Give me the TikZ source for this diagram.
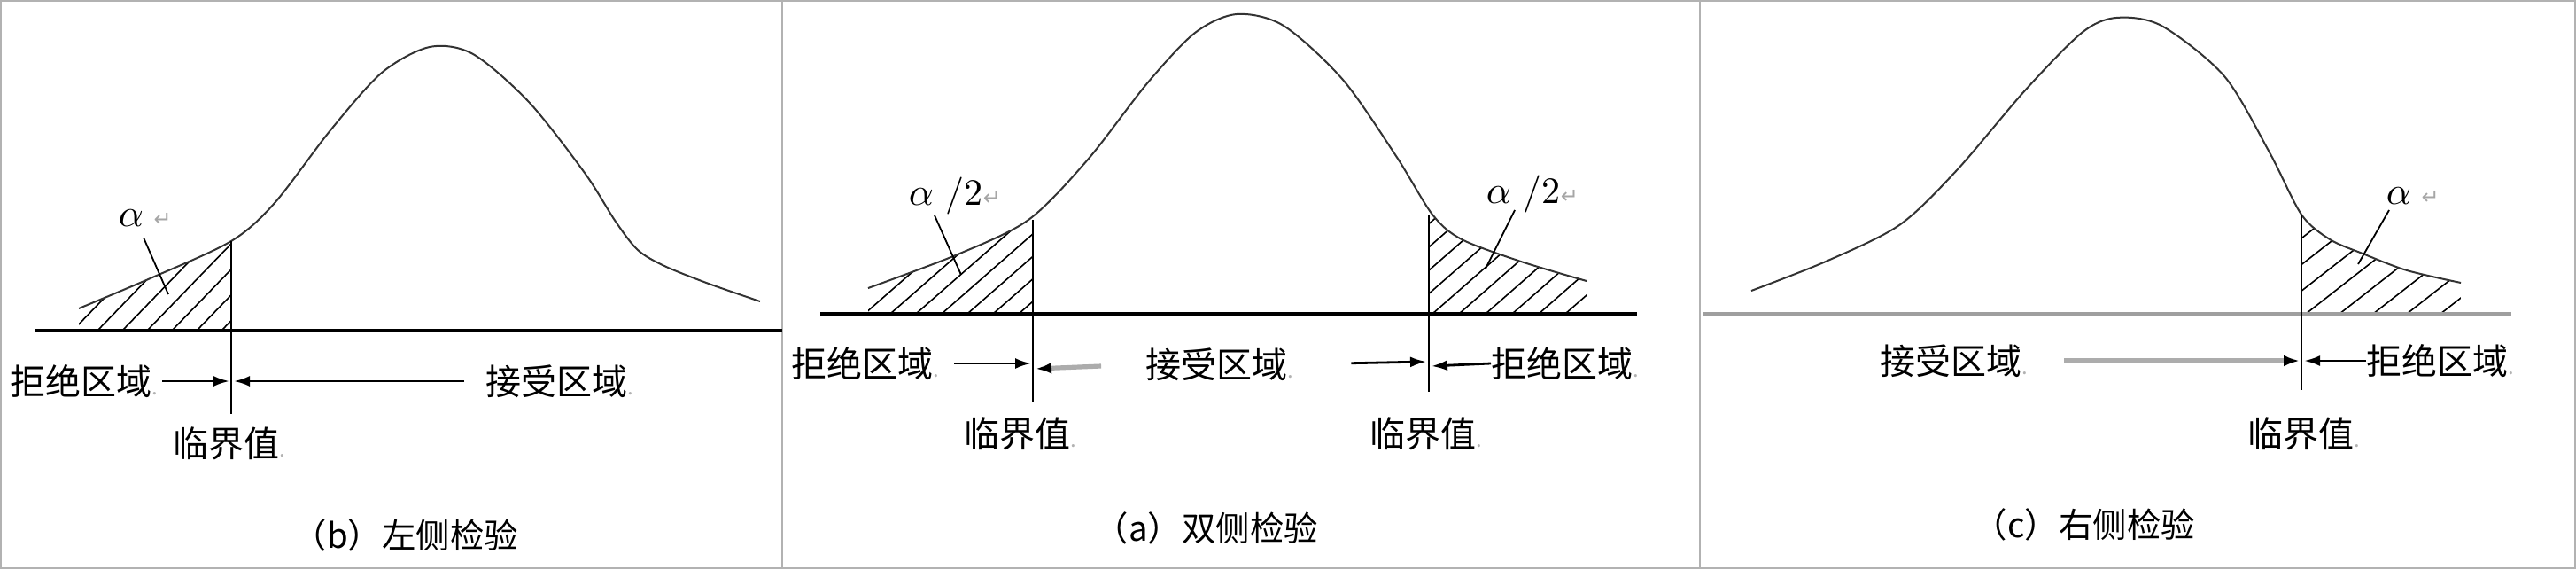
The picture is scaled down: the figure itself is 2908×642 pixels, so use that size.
\documentclass[tikz,border=0pt]{standalone}
\usepackage{fontspec}
\usepackage{xcolor}
\usetikzlibrary{arrows.meta}
\newfontfamily\cjk{Noto Sans CJK SC}
\newfontfamily\dejavu{DejaVu Sans}
\newcommand\pmark{\textcolor{gray!60}{\fontsize{6}{6}\selectfont .}}
\newcommand\retmark{\textcolor{gray!70}{\dejavu\fontsize{6}{6}\selectfont ↵}}
% the three bell curves, in pixel coordinates
\newcommand\bellB{plot[smooth] coordinates {(89,348) (172,313) (261,272) (310,229) (373,147) (431,82) (485,53) (534,61) (597,115) (660,195) (695,250) (720,282) (750,300) (800,320) (858,340)}}
\newcommand\bellA{plot[smooth] coordinates {(980,325) (1081,287) (1161,248) (1228,180) (1295,94) (1349,37) (1396,16) (1449,29) (1516,90) (1576,176) (1617,242) (1650,270) (1717,295) (1791,317)}}
\newcommand\bellC{plot[smooth] coordinates {(1977,328) (2061,295) (2144,254) (2209,192) (2286,102) (2350,37) (2389,20) (2440,29) (2511,86) (2562,172) (2598,242) (2630,270) (2667,286) (2717,305) (2778,319)}}
\tikzset{
  lbl/.style={inner sep=0pt,anchor=west,font=\cjk\fontsize{10}{12}\selectfont},
  capt/.style={inner sep=0pt,anchor=west,font=\cjk\fontsize{9.6}{12}\selectfont},
  alf/.style={inner sep=0pt,anchor=west,font=\fontsize{10.5}{12}\selectfont},
  bell/.style={line width=0.5pt,black!80},
  axis/.style={line width=0.8pt},
  crit/.style={line width=0.6pt},
  hatch/.style={line width=0.4pt},
  lead/.style={line width=0.45pt},
  arr/.style={line width=0.7pt,-{Latex[length=4.5pt,width=3pt]}},
  garr/.style={line width=1.3pt,gray!65,-{Latex[length=4.5pt,width=3.2pt,color=black]}}
}

\begin{document}
\begin{tikzpicture}[x=0.25pt,y=-0.25pt]
\useasboundingbox (0,0) rectangle (2908,642);
\draw[gray!60,line width=0.4pt] (1,1) rectangle (2907,641);
\draw[gray!60,line width=0.4pt] (883,1) -- (883,641) (1919,1) -- (1919,641);

% (b) left
\begin{scope}
\clip (89,0) rectangle (261,373);
\clip \bellB -- (858,373) -- (89,373) -- cycle;
\foreach \x in {-2,26,...,270} \draw[hatch] (\x,373) -- ++(160,-165);
\end{scope}
\draw[bell] \bellB;
\draw[axis] (39,373) -- (883,373);
\coordinate (kB) at (261,272);
\coordinate (kBb) at (261,467);
\draw[crit] (kB) -- (kBb);
\node[alf] (alB) at (133,246) {$\alpha$\;\retmark};
\coordinate (lB1) at (162,268);
\coordinate (lB2) at (190,332);
\draw[lead] (lB1) -- (lB2);
\node[lbl] (rejB) at (11,430) {拒绝区域\pmark};
\node[lbl] (accB) at (548,430) {接受区域\pmark};
\node[lbl] (critB) at (195,500) {临界值\pmark};
\coordinate (kB1) at (259,430);
\coordinate (kB2) at (264,430);
\draw[arr,shorten <=1pt] (rejB.east) -- (kB1);
\draw[arr,shorten <=6pt] (accB.west) -- (kB2);
\node[capt] (capB) at (330,604) {（b）左侧检验};

% (a) two-sided
\begin{scope}
\clip (980,0) rectangle (1166,354);
\clip \bellA -- (1791,354) -- (980,354) -- cycle;
\foreach \x in {860,889,...,1170} \draw[hatch] (\x,354) -- ++(160,-140);
\end{scope}
\begin{scope}
\clip (1613,0) rectangle (1791,354);
\clip \bellA -- (1791,354) -- (980,354) -- cycle;
\foreach \x in {1497,1527,...,1800} \draw[hatch] (\x,354) -- ++(160,-140);
\end{scope}
\draw[bell] \bellA;
\draw[axis] (926,354) -- (1848,354);
\coordinate (kA) at (1166,248);
\coordinate (kAb) at (1166,454);
\coordinate (kA') at (1613,242);
\coordinate (kA'b) at (1613,442);
\draw[crit] (kA) -- (kAb);
\draw[crit] (kA') -- (kA'b);
\node[alf] (alA1) at (1025,221) {$\alpha$ /2\retmark};
\node[alf] (alA2) at (1677,219) {$\alpha$ /2\retmark};
\coordinate (lA1) at (1055,243);
\coordinate (lA2) at (1085,310);
\coordinate (lA3) at (1710,237);
\coordinate (lA4) at (1677,303);
\draw[lead] (lA1) -- (lA2);
\draw[lead] (lA3) -- (lA4);
\node[lbl] (rejA1) at (893,410) {拒绝区域\pmark};
\node[lbl] (accA) at (1293,411) {接受区域\pmark};
\node[lbl] (rejA2) at (1683,410) {拒绝区域\pmark};
\node[lbl] (critA1) at (1088,489) {临界值\pmark};
\node[lbl] (critA2) at (1546,489) {临界值\pmark};
\coordinate (kA1) at (1164,410);
\coordinate (kA2) at (1169,416);
\coordinate (kA3) at (1610,408);
\coordinate (kA4) at (1616,413);
\draw[arr,shorten <=4pt] (rejA1.east) -- (kA1);
\draw[garr,shorten <=12.5pt] (accA.west) -- (kA2);
\draw[arr,shorten <=16pt] (accA.east) -- (kA3);
\draw[arr] (rejA2.west) -- (kA4);
\node[capt] (capA) at (1235,596) {（a）双侧检验};

% (c) right
\begin{scope}
\clip (2598,0) rectangle (2778,354);
\clip \bellC -- (2778,354) -- (1977,354) -- cycle;
\foreach \x in {2451,2489,...,2790} \draw[hatch] (\x,354) -- ++(160,-125);
\end{scope}
\draw[bell] \bellC;
\draw[line width=1.2pt,gray!75] (1922,354) -- (2835,354);
\coordinate (kC) at (2598,242);
\coordinate (kCb) at (2598,440);
\draw[crit] (kC) -- (kCb);
\node[alf] (alC) at (2693,221) {$\alpha$\;\retmark};
\coordinate (lC1) at (2697,237);
\coordinate (lC2) at (2662,298);
\draw[lead] (lC1) -- (lC2);
\node[lbl] (accC) at (2122,407) {接受区域\pmark};
\node[lbl] (rejC) at (2671,407) {拒绝区域\pmark};
\node[lbl] (critC) at (2537,489) {临界值\pmark};
\coordinate (kC1) at (2596,407);
\coordinate (kC2) at (2601,407);
\draw[garr,shorten <=10pt] (accC.east) -- (kC1);
\draw[arr] (rejC.west) -- (kC2);
\node[capt] (capC) at (2227,592) {（c）右侧检验};
\end{tikzpicture}
\end{document}
